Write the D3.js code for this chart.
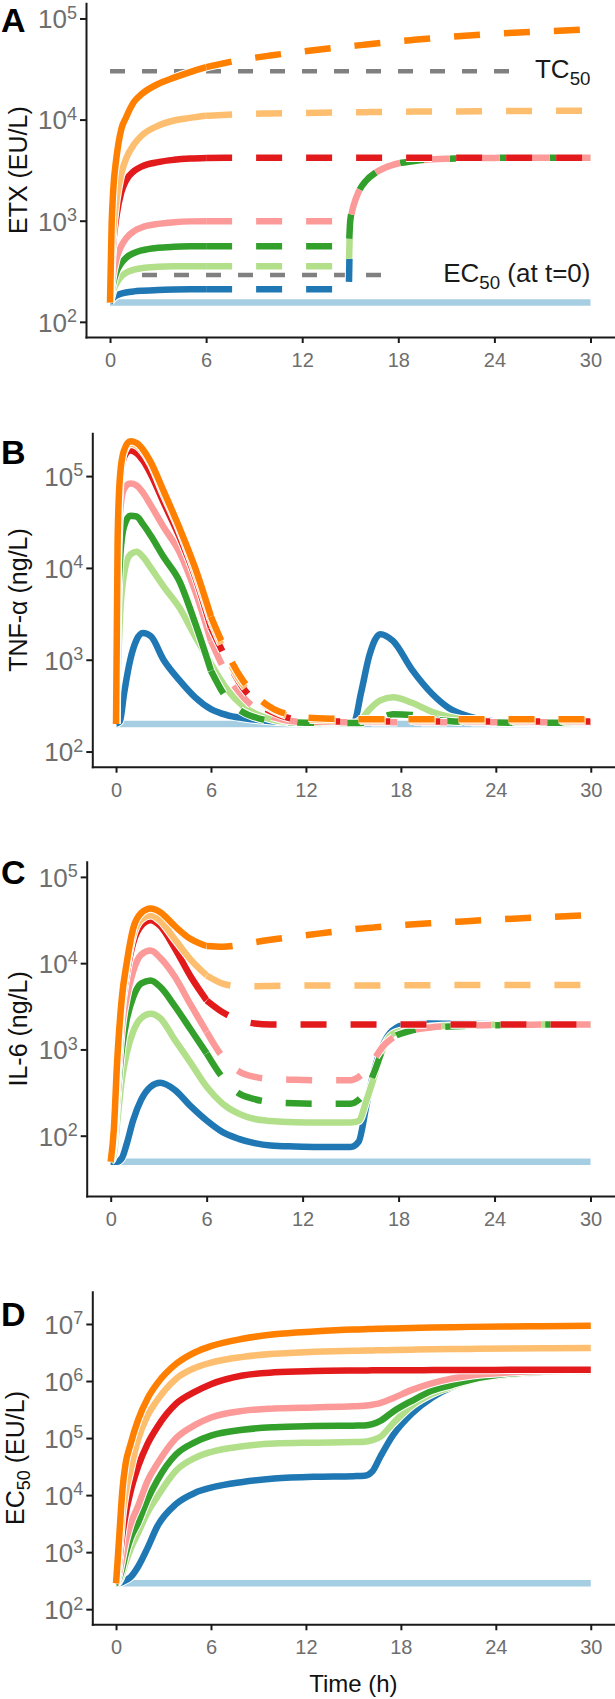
<!DOCTYPE html>
<html><head><meta charset="utf-8">
<script src="https://cdn.jsdelivr.net/npm/d3@7"></script>
<style>
html,body{margin:0;padding:0;background:#fff;}
svg{display:block;font-family:"Liberation Sans",Arial,Helvetica,sans-serif;}
</style>
</head><body>
<svg id="chart" width="615" height="1699"></svg>
<script>
// ---------------- DATA ----------------
const seriesColors = ["#a6cee3","#1f78b4","#b2df8a","#33a02c","#fb9a99","#e31a1c","#fdbf6f","#ff7f00"];
const xTicks = [0, 6, 12, 18, 24, 30];
const timeRange = [0, 30];

// Panel A: ETX (EU/L)
const timeA = [0,0.1,0.2,0.4,0.7,1,1.5,2,3,4,5,6,8,10,12,14.9,15,15.2,15.5,16,16.6,17.5,19,21,24,27,30];
const etx1 = [155,155,155,155,155,155,155,155,155,155,155,155,155,155,155,155,155,155,155,155,155,155,155,155,155,155,155];
const etx2 = [155,165,172,182,190,195,200,203,207,209,210,210,210,210,210,210,1000,1400,1900,2500,3000,3500,3900,4100,4180,4200,4200];
const etx3 = [155,180,205,240,280,305,328,340,350,354,355,355,355,355,355,355,1000,1400,1900,2500,3000,3500,3900,4100,4180,4200,4200];
const etx4 = [155,200,240,310,380,430,480,510,540,552,558,560,560,560,560,560,1000,1400,1900,2500,3000,3500,3900,4100,4180,4200,4200];
const etx5 = [155,230,300,420,560,670,790,860,930,965,985,990,990,990,990,990,1050,1400,1900,2500,3000,3500,3900,4100,4180,4200,4200];
const etx6 = [155,350,600,1100,1900,2500,3100,3450,3800,4000,4120,4180,4200,4200,4200,4200,4200,4200,4200,4200,4200,4200,4200,4200,4200,4200,4200];
const etx7 = [155,450,800,1600,2900,4100,5700,7000,8700,9800,10400,10900,11300,11500,11600,11800,11800,11800,11800,11850,11900,11900,12000,12000,12100,12200,12200];
const etx8 = [155,900,2000,4200,8000,10500,15000,18000,22500,26000,29500,33000,38500,43000,47000,53000,53200,53600,54200,55300,56600,58500,61500,65500,70500,74500,78000];
const etxTicks = [1e2, 1e3, 1e4, 1e5];
const etxLimits = [1e2, 1e5];
const refValues = [30000, 290];
const refEnds = [25, 17.2];

// Panel B: TNF-alpha (ng/L)
const timeB = [0,0.1,0.25,0.5,0.9,1.3,1.7,2.2,3,4,5,6,7,8,9,10,11,12,14,15,15.5,16,16.7,17.5,18.7,20,21,22.4,24,27,30];
const tnf1 = [200,200,200,200,200,200,200,200,200,200,200,200,200,200,200,200,200,200,200,200,200,200,200,200,200,200,200,200,200,200,200];
const tnf2 = [200,205,215,420,1000,1650,1950,1800,1000,600,390,290,250,232,220,212,208,205,203,202,450,1100,1900,1600,780,420,300,238,212,205,204];
const tnf3 = [200,700,3000,8500,14000,15000,13200,10000,6300,3700,1800,900,480,316,250,220,210,205,204,204,225,285,360,390,340,270,240,218,208,205,205];
const tnf4 = [200,2500,12000,28000,37000,36300,30000,22400,13200,7200,2500,760,380,270,230,214,208,206,205,205,205,210,230,255,250,225,215,210,207,206,206];
const tnf5 = [200,8000,40000,72000,83000,79000,66000,48000,28000,15000,5600,1600,700,400,280,235,215,210,208,208,208,208,208,208,208,208,208,208,208,208,208];
const tnf6 = [200,15000,80000,160000,190000,178000,148000,105000,52000,22000,8000,2240,1000,500,330,263,230,216,212,212,212,212,212,212,212,212,212,212,212,212,212];
const tnf7 = [200,18000,95000,185000,225000,215000,185000,135000,64000,26000,9000,2700,1080,540,360,280,240,225,218,218,218,218,218,218,218,218,218,218,218,218,218];
const tnf8 = [200,20000,100000,190000,240000,229000,195000,141000,69000,27500,10000,2950,1200,600,380,288,251,234,227,225,225,225,225,225,225,225,225,225,225,225,225];
const tnfTicks = [1e2, 1e3, 1e4, 1e5];
const tnfLimits = [1e2, 2e5];

// Panel C: IL-6 (ng/L)
const timeC = [0,0.2,0.4,0.7,1,1.4,1.9,2.5,3.1,4,5,6,7,8,9,10,11.5,13,15,15.5,16,16.5,17,17.6,18.5,20,22,24,27,30];
const il1 = [50,50,50,50,50,50,50,50,50,50,50,50,50,50,50,50,50,50,50,50,50,50,50,50,50,50,50,50,50,50];
const il2 = [50,50,50,55,80,150,260,370,410,340,220,150,110,92,82,77,75,74,74,85,230,600,1100,1650,1950,2000,1980,1960,1950,1950];
const il3 = [50,60,140,450,900,1600,2300,2600,2300,1300,700,370,235,180,156,148,143,142,142,148,260,500,1000,1500,1700,1830,1900,1930,1945,1950];
const il4 = [50,80,250,1000,2200,4000,5800,6300,5300,3200,1700,900,470,310,265,245,237,235,235,260,340,560,980,1350,1600,1780,1870,1910,1940,1950];
const il5 = [50,90,350,1800,4000,8000,12500,14000,11500,7000,3300,1600,820,560,480,455,445,440,440,480,580,780,1070,1350,1600,1800,1880,1920,1940,1950];
const il6 = [50,100,500,3000,7500,17000,27000,31500,27000,15000,7000,3700,2700,2200,2000,1950,1950,1950,1950,1950,1950,1950,1950,1950,1950,1950,1950,1950,1950,1950];
const il7 = [50,110,600,3500,9000,21000,32000,36000,31000,19000,11000,7200,5800,5400,5400,5450,5480,5500,5500,5500,5500,5500,5520,5520,5530,5550,5570,5580,5590,5600];
const il8 = [50,120,700,4000,10000,25000,38000,43000,39000,27000,19000,15800,15500,16200,17500,18700,20300,22000,24500,25000,25500,26000,26500,27000,27800,29000,30500,32000,34000,36000];
const ilTicks = [1e2, 1e3, 1e4, 1e5];
const ilLimits = [30, 1e5];

// Panel D: EC50 (EU/L)
const timeD = [0,0.1,0.25,0.4,0.6,0.9,1.4,2,2.6,3.8,5,6,8,10,12.5,15,15.7,16.2,16.7,17.5,18.7,20,21.2,22.4,24.9,27,30];
const ec1 = [285,285,285,285,285,285,285,285,285,285,285,285,285,285,285,285,285,285,285,285,285,285,285,285,285,285,285];
const ec2 = [285,285,290,300,320,360,560,1200,2800,7000,11000,13500,17000,19500,21000,21500,21800,26000,47000,112000,270000,520000,780000,1000000,1290000,1420000,1470000];
const ec3 = [285,290,330,420,650,1100,2200,5000,9300,27000,45000,57000,72000,80000,83000,85000,86000,92000,105000,180000,370000,600000,800000,1020000,1300000,1430000,1480000];
const ec4 = [285,300,380,520,900,1700,3300,8500,18000,52000,85000,110000,140000,155000,162000,165000,166000,175000,200000,290000,450000,680000,850000,1050000,1350000,1450000,1500000];
const ec5 = [285,330,500,800,1500,3000,6500,18000,35000,100000,170000,230000,300000,330000,345000,360000,370000,385000,410000,500000,700000,920000,1100000,1250000,1420000,1500000,1530000];
const ec6 = [285,400,900,2000,4500,11000,32000,80000,155000,400000,650000,880000,1250000,1420000,1500000,1530000,1535000,1540000,1540000,1545000,1550000,1555000,1560000,1565000,1570000,1575000,1580000];
const ec7 = [285,500,1500,4500,11000,26000,95000,250000,460000,1100000,1700000,2100000,2650000,3000000,3250000,3400000,3420000,3440000,3460000,3500000,3550000,3600000,3630000,3660000,3720000,3760000,3800000];
const ec8 = [285,700,3000,12000,35000,75000,210000,500000,900000,2000000,3200000,4100000,5500000,6600000,7400000,8000000,8100000,8200000,8250000,8350000,8500000,8700000,8800000,8900000,9050000,9150000,9300000];
const ecTicks = [1e2, 1e3, 1e4, 1e5, 1e6, 1e7];
const ecLimits = [1e2, 2e7];

// time from which each series is drawn dashed (null = solid throughout)
const dashA = [null, 6, 6, 6, 6, 6, 6, 6];
const dashB = [null, null, null, 6, 6, 6, 6, 6];
const dashC = [null, null, null, 6, 6, 6, 6, 6];
const dashD = [null, null, null, null, null, null, null, null];

// ---------------- DRAWING ----------------
const svg = d3.select("#chart");
const FONT_TICK_Y = 26, FONT_TICK_X = 20, FONT_TITLE = 25;
const LW = 6.5;
const TICK_COL = "#6e6e6e", AXIS_COL = "#1a1a1a";

const panels = [
  {letter:"A", letterY:32, left:86, right:614.5, top:3.3, bottom:337, limits:etxLimits, ticks:etxTicks,
   time:timeA, series:[etx1,etx2,etx3,etx4,etx5,etx6,etx7,etx8], dash:dashA, titleX:26.5,
   title:[["ETX (EU/L)",0]], refs:true},
  {letter:"B", letterY:464, left:92.3, right:614.5, top:433.3, bottom:766.7, limits:tnfLimits, ticks:tnfTicks,
   time:timeB, series:[tnf1,tnf2,tnf3,tnf4,tnf5,tnf6,tnf7,tnf8], dash:dashB, titleX:26.5,
   title:[["TNF-\u03b1 (ng/L)",0]]},
  {letter:"C", letterY:884, left:86.7, right:614.5, top:861.7, bottom:1196, limits:ilLimits, ticks:ilTicks,
   time:timeC, series:[il1,il2,il3,il4,il5,il6,il7,il8], dash:dashC, titleX:26.5,
   title:[["IL-6 (ng/L)",0]]},
  {letter:"D", letterY:1326, left:92.3, right:614.5, top:1291.7, bottom:1624.3, limits:ecLimits, ticks:ecTicks,
   time:timeD, series:[ec1,ec2,ec3,ec4,ec5,ec6,ec7,ec8], dash:dashD, titleX:23.5,
   title:[["EC",0],["50",1],[" (EU/L)",0]], xTitle:"Time (h)"}
];

function addParts(textSel, parts, size) {
  let shifted = 0;
  parts.forEach(([txt, sub]) => {
    const ts = textSel.append("tspan").text(txt);
    if (sub && !shifted) { ts.attr("font-size", size*0.72).attr("dy", size*0.25); shifted = size*0.25; }
    else if (!sub && shifted) { ts.attr("dy", -shifted); shifted = 0; }
  });
}

panels.forEach(p => {
  const g = svg.append("g");
  const span = timeRange[1] - timeRange[0];
  const x = d3.scaleLinear().domain([timeRange[0] - 0.05*span, timeRange[1] + 0.05*span]).range([p.left, p.right]);
  const lo = Math.log10(p.limits[0]), hi = Math.log10(p.limits[1]), pad = 0.05*(hi - lo);
  const y = d3.scaleLog().domain([Math.pow(10, lo - pad), Math.pow(10, hi + pad)]).range([p.bottom, p.top]);

  if (p.refs) {
    refValues.forEach((v, i) => {
      g.append("line").attr("x1", x(0)).attr("x2", x(refEnds[i])).attr("y1", y(v)).attr("y2", y(v))
        .attr("stroke", "#808080").attr("stroke-width", 4.5).attr("stroke-dasharray", "15,17");
    });
  }

  const line = d3.line().x(d => x(d[0])).y(d => y(d[1])).curve(d3.curveMonotoneX);
  p.series.forEach((vals, i) => {
    const pts = p.time.map((t, j) => [t, vals[j]]);
    const df = p.dash[i];
    const segs = df == null ? [[pts, false]] :
      [[pts.filter(d => d[0] <= df), false], [pts.filter(d => d[0] >= df), true]];
    segs.forEach(([s, dashed]) => {
      g.append("path").attr("d", line(s)).attr("fill", "none").attr("stroke", "#ffffff")
        .attr("stroke-width", LW + 2).attr("stroke-dasharray", dashed ? "26,24" : null);
      g.append("path").attr("d", line(s)).attr("fill", "none").attr("stroke", seriesColors[i])
        .attr("stroke-width", LW).attr("stroke-dasharray", dashed ? "26,24" : null);
    });
  });

  if (p.refs) {
    const labels = [[["TC",0],["50",1]], [["EC",0],["50",1],[" (at t=0)",0]]];
    refValues.forEach((v, i) => {
      const t = g.append("text").attr("x", x(30)).attr("y", y(v) + 7)
        .attr("text-anchor", "end").attr("font-size", 26).attr("fill", "#1a1a1a");
      addParts(t, labels[i], 26);
    });
  }

  const yAxis = g.append("g").attr("transform", `translate(${p.left},0)`)
    .call(d3.axisLeft(y).tickValues(p.ticks).tickSize(6).tickSizeOuter(0).tickFormat(""));
  const xAxis = g.append("g").attr("transform", `translate(0,${p.bottom})`)
    .call(d3.axisBottom(x).tickValues(xTicks).tickSize(6).tickSizeOuter(0).tickFormat(d3.format("d")));
  [yAxis, xAxis].forEach(a => {
    a.select(".domain").attr("stroke", AXIS_COL).attr("stroke-width", 2).attr("stroke-linecap", "square");
    a.selectAll(".tick line").attr("stroke", AXIS_COL).attr("stroke-width", 2);
  });
  yAxis.selectAll(".tick text").each(function(d) {
    const t = d3.select(this);
    t.text(null).attr("x", -9).attr("dy", null).attr("y", FONT_TICK_Y*0.36)
      .attr("fill", TICK_COL).attr("font-size", FONT_TICK_Y).attr("font-family", null);
    t.append("tspan").text("10");
    t.append("tspan").attr("dy", -9.5).attr("font-size", 18).text(Math.round(Math.log10(d)));
  });
  xAxis.selectAll(".tick text").attr("dy", null).attr("y", 30).attr("fill", TICK_COL)
    .attr("font-size", FONT_TICK_X).attr("font-family", null);

  const yt = g.append("text").attr("transform", `translate(${p.titleX},${(p.top + p.bottom)/2}) rotate(-90)`)
    .attr("text-anchor", "middle").attr("font-size", FONT_TITLE).attr("fill", "#111");
  addParts(yt, p.title, FONT_TITLE);

  if (p.xTitle) {
    g.append("text").attr("x", (p.left + p.right)/2).attr("y", 1692).attr("text-anchor", "middle")
      .attr("font-size", FONT_TITLE - 1).attr("fill", "#111").text(p.xTitle);
  }

  g.append("text").attr("x", 1).attr("y", p.letterY).attr("font-size", 34).attr("font-weight", "bold")
    .attr("fill", "#000").text(p.letter);
});
</script>
</body></html>
